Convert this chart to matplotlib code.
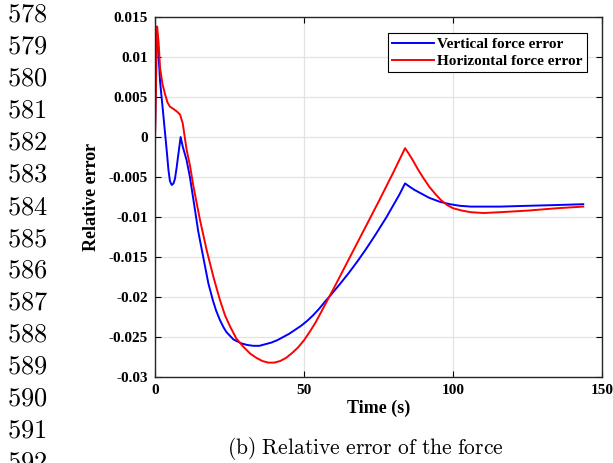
import matplotlib
matplotlib.use("Agg")
import matplotlib.pyplot as plt

# Relative error of the force
t_vert = [0, 0.5, 1.0, 1.7, 2.8, 3.9, 4.5, 5.0, 5.6, 6.2, 6.7, 7.3, 7.7, 8.6, 9.3,
          10.6, 11.7, 13.4, 14.5, 15.7, 17.9, 19.4, 20.5, 21.8, 23.0, 24.0, 26.3, 29.0,
          31.0, 33.0, 35.0, 37.0, 39.0, 41.0, 43.0, 45.0, 47.0, 49.0, 51.0, 53.0, 55.0,
          57.0, 59.3, 62.0, 65.0, 68.0, 71.0, 74.0, 77.7, 80.0, 82.0, 83.9,
          85.0, 87.0, 89.0, 92.0, 95.6, 99.0, 102.3, 106.0, 110.0, 115.8, 125.0, 135.0, 143.7]
err_vert = [0, 0.0138, 0.0115, 0.0069, 0.0027, -0.0016, -0.0041, -0.0055, -0.0060, -0.0058,
            -0.0052, -0.0037, -0.0025, 0.0, -0.0012, -0.0029, -0.0050, -0.0091, -0.0118,
            -0.0141, -0.0183, -0.0204, -0.0217, -0.0229, -0.0238, -0.0244, -0.0253, -0.0258,
            -0.0260, -0.0261, -0.0261, -0.0259, -0.0257, -0.0254, -0.0250, -0.0246, -0.0241,
            -0.0236, -0.0230, -0.0223, -0.0215, -0.0206, -0.0196, -0.0184, -0.0170, -0.0155,
            -0.0139, -0.0122, -0.0100, -0.0085, -0.0072, -0.0058,
            -0.0061, -0.0066, -0.0070, -0.0076, -0.0081, -0.0084, -0.0086, -0.0087, -0.0087,
            -0.0087, -0.0086, -0.0085, -0.0084]

t_horz = [0, 0.7, 1.2, 1.7, 2.5, 3.4, 4.2, 5.0, 6.2, 7.3, 8.4, 9.3, 10.6, 11.7, 12.9,
          15.1, 17.3, 19.6, 21.8, 23.5, 25.2, 27.3, 29.6, 32.0, 34.0, 36.0, 38.0, 40.0,
          42.0, 44.0, 46.0, 48.0, 50.0, 52.0, 54.0, 56.0, 58.0, 60.0, 65.0, 70.0, 75.0,
          80.0, 83.9, 85.0, 86.5, 88.0, 90.0, 92.0, 94.0, 96.0, 98.0, 100.0, 103.0, 106.0,
          110.2, 115.8, 125.0, 135.0, 143.7]
err_horz = [0, 0.0138, 0.0118, 0.0086, 0.0066, 0.0053, 0.0043, 0.0038, 0.0035, 0.0032,
            0.0028, 0.0017, -0.0016, -0.0035, -0.0062, -0.0104, -0.0141, -0.0175, -0.0204,
            -0.0223, -0.0237, -0.0252, -0.0262, -0.0271, -0.0276, -0.0280, -0.0282, -0.0282,
            -0.0280, -0.0276, -0.0270, -0.0263, -0.0254, -0.0243, -0.0231, -0.0217, -0.0203,
            -0.0189, -0.0153, -0.0117, -0.0081, -0.0044, -0.0014, -0.0020, -0.0029, -0.0039,
            -0.0051, -0.0062, -0.0071, -0.0079, -0.0085, -0.0089, -0.0092, -0.0094, -0.0095,
            -0.0094, -0.0092, -0.0089, -0.0087]

xticks = [0, 50, 100, 150]
yticks = [-0.03, -0.025, -0.02, -0.015, -0.01, -0.005, 0, 0.005, 0.01, 0.015]
ytick_labels = ['-0.03', '-0.025', '-0.02', '-0.015', '-0.01', '-0.005', '0', '0.005', '0.01', '0.015']
line_numbers = list(range(578, 593))

plt.rcParams['mathtext.fontset'] = 'cm'
bold_serif = {'family': 'Liberation Serif', 'weight': 'bold'}

fig = plt.figure(figsize=(6.13, 4.63), dpi=100)
ax = fig.add_axes([0.2529, 0.1857, 0.7292, 0.7776])

ax.plot(t_vert, err_vert, color='blue', lw=1.4, label='Vertical force error')
ax.plot(t_horz, err_horz, color='red', lw=1.4, label='Horizontal force error')

ax.set_xlim(0, 150)
ax.set_ylim(-0.03, 0.015)
ax.set_xticks(xticks)
ax.set_xticklabels([str(v) for v in xticks], fontdict=bold_serif, fontsize=11)
ax.set_yticks(yticks)
ax.set_yticklabels(ytick_labels, fontdict=bold_serif, fontsize=11)
ax.tick_params(direction='in', top=True, right=True, length=4, width=0.8, pad=5)
ax.grid(True, color='#e3e3e3', lw=0.9)
ax.set_axisbelow(True)
for s in ax.spines.values():
    s.set_linewidth(1.0)
    s.set_color('#262626')

ax.set_xlabel('Time (s)', fontdict=bold_serif, fontsize=13, labelpad=2)
ax.set_ylabel('Relative error', fontdict=bold_serif, fontsize=13, labelpad=6)

leg = ax.legend(loc='upper right', bbox_to_anchor=(0.966, 0.956),
                prop={'family': 'Liberation Serif', 'weight': 'bold', 'size': 11},
                fancybox=False, framealpha=1, edgecolor='black', borderpad=0.3,
                labelspacing=0.2, handlelength=2.7, handletextpad=0.2, borderaxespad=0)
leg.get_frame().set_linewidth(0.8)

# page line numbers and caption
for i, n in enumerate(line_numbers):
    fig.text(0.012, 1 - (15 + 32 * i) / 463, r'$\mathrm{%d}$' % n, fontsize=19, va='center', ha='left')
fig.text(0.5957, 1 - 449 / 463, r'$\mathrm{(b)\ Relative\ error\ of\ the\ force}$',
         fontsize=15.5, va='center', ha='center')

fig.savefig('out.png', dpi=100)
